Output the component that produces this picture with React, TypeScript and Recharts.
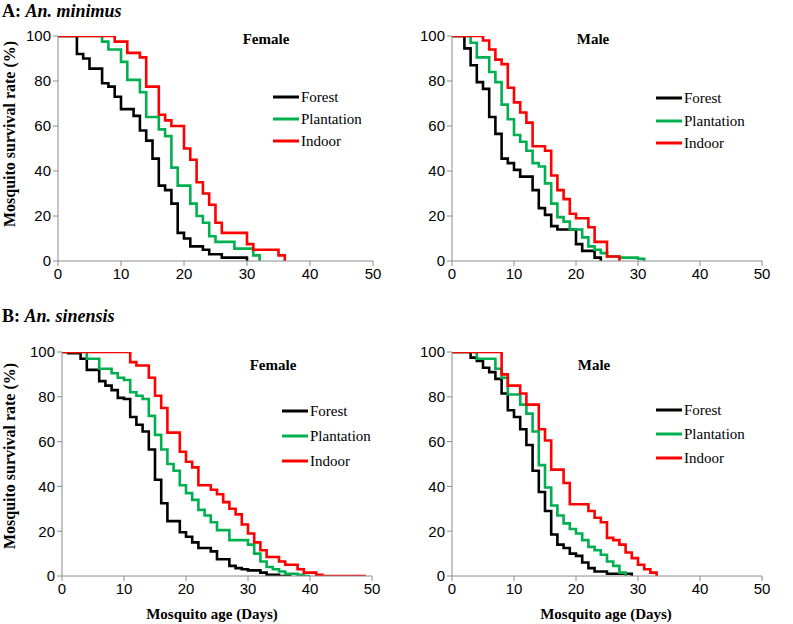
import React from "react";
import { LineChart, Line, XAxis, YAxis } from "recharts";

type Pt = [number, number];

const xTicks = [0, 10, 20, 30, 40, 50];
const yTicks = [0, 20, 40, 60, 80, 100];
const seriesNames = ["Forest", "Plantation", "Indoor"];
const seriesColors = ["#000000", "#00b050", "#ff0000"];

// A: An. minimus, female  [day, survival %]
const minFemForest: Pt[] = [[0, 100], [3, 92], [4, 90], [5, 85.5], [7, 79], [8, 77.5], [9, 73], [10, 67.5], [12, 64.5], [13, 58], [14, 53.5], [15, 45.5], [16, 33.5], [17, 31.5], [18, 25.5], [19, 12.5], [20, 10], [21, 6.5], [23, 5], [24, 3], [26, 1.5], [30, 0]];
const minFemPlantation: Pt[] = [[0, 100], [7, 97.5], [8, 94], [10, 88.5], [11, 80.5], [13, 75], [14, 64], [16, 58.5], [17, 55.5], [18, 41.5], [19, 33.5], [21, 25.5], [22, 20], [23, 17], [24, 11], [25, 8.5], [28, 5.5], [31, 2.5], [32, 0]];
const minFemIndoor: Pt[] = [[0, 100], [9, 97.5], [11, 92.5], [13, 90.5], [14, 77.5], [16, 65], [17, 62.5], [18, 60], [20, 50], [21, 45], [22, 35], [23, 30], [24, 25], [25, 17], [26, 12.5], [30, 7.5], [31, 5], [35, 2.5], [36, 0]];

// A: An. minimus, male
const minMaleForest: Pt[] = [[0, 100], [2, 94.5], [3, 87], [4, 79.5], [5, 76.5], [6, 64], [7, 56.5], [8, 45.5], [9, 43.5], [10, 40.5], [11, 37.5], [13, 31.5], [14, 23.5], [15, 20.5], [16, 15.5], [17, 14], [20, 7.5], [21, 4.5], [23, 1.5], [24, 0]];
const minMalePlantation: Pt[] = [[0, 100], [3, 97], [4, 90.5], [6, 84], [7, 79.5], [8, 69.5], [9, 63], [10, 56], [11, 53], [12, 49], [13, 43.5], [14, 42], [15, 34.5], [16, 25.5], [17, 19.5], [18, 17.5], [19, 14], [21, 10.5], [22, 6.5], [23, 5], [24, 3.5], [25, 2], [27, 1.5], [30, 1], [31, 0]];
const minMaleIndoor: Pt[] = [[0, 100], [5, 98], [6, 94], [7, 89.5], [8, 87.5], [9, 77], [10, 70.5], [11, 66], [12, 61.5], [13, 51], [15, 49], [16, 38], [17, 31.5], [18, 27.5], [19, 21], [20, 19], [22, 15], [23, 8.5], [25, 2], [27, 0]];

// B: An. sinensis, female
const sinFemForest: Pt[] = [[0, 100], [1, 99.5], [3, 97], [4, 92], [6, 87], [7, 85], [8, 83], [9, 79.5], [10, 79], [11, 71], [12, 67.5], [13, 64.5], [14, 56.5], [15, 43], [16, 32.5], [17, 24.5], [19, 19.5], [20, 17.5], [21, 15], [22, 12.5], [24, 11], [25, 7.5], [27, 4.5], [28, 3.5], [29, 3], [30, 2.5], [32, 1.5], [33, 0.5], [35, 0], [37, 0]];
const sinFemPlantation: Pt[] = [[0, 100], [4, 97], [6, 92.5], [8, 90.5], [9, 88.5], [10, 87.5], [11, 82], [12, 80.5], [13, 79], [14, 71.5], [15, 63], [16, 56.5], [17, 50], [18, 47], [19, 40.5], [20, 37], [21, 34], [22, 29.5], [23, 27], [24, 24], [25, 20.5], [27, 16], [30, 14], [31, 10], [32, 6.5], [33, 4], [34, 3], [35, 2], [36, 1], [38, 0.5], [39, 0], [40, 0]];
const sinFemIndoor: Pt[] = [[0, 100], [11, 95.5], [12, 94], [14, 88.5], [15, 80.5], [16, 75], [17, 64], [19, 55.5], [20, 51], [21, 48.5], [22, 40.5], [24, 38.5], [25, 36.5], [26, 33], [27, 30], [28, 27.5], [29, 23], [30, 19], [31, 15], [32, 11.5], [33, 8.5], [35, 6.5], [36, 5], [38, 3], [39, 1.5], [41, 0.5], [42, 0], [49, 0]];

// B: An. sinensis, male
const sinMaleForest: Pt[] = [[0, 100], [3, 97.5], [4, 96], [5, 93], [6, 91], [7, 88], [8, 81.5], [9, 74], [10, 71], [11, 65.5], [12, 58.5], [13, 47], [14, 37.5], [15, 29], [16, 18.5], [17, 14], [18, 12.5], [19, 10], [20, 9], [21, 6], [22, 3.5], [23, 2], [25, 1], [29, 0]];
const sinMalePlantation: Pt[] = [[0, 100], [4, 97], [7, 92.5], [8, 88.5], [9, 81], [11, 76.5], [12, 72.5], [13, 64.5], [14, 49.5], [15, 39.5], [16, 31.5], [17, 27], [18, 23.5], [19, 21], [20, 19], [21, 16], [22, 13], [23, 11.5], [24, 9.5], [25, 6.5], [26, 4.5], [27, 1.5], [28, 0]];
const sinMaleIndoor: Pt[] = [[0, 100], [8, 90], [9, 85], [11, 81.5], [12, 76.5], [14, 65.5], [15, 60.5], [16, 47.5], [18, 41.5], [19, 32], [22, 29], [23, 26], [24, 24], [25, 17], [26, 16], [27, 14], [28, 10.5], [29, 8], [30, 5], [31, 3], [32, 1.5], [33, 0]];

const serif = "'Liberation Serif', 'Times New Roman', serif";
const sans = "'Liberation Sans', Arial, sans-serif";
const axisGrey = "#8c8c8c";

const rows = (s: Pt[]) => s.map(([x, y]) => ({ x, y }));

function Panel({ left, top, axisW, plotW, plotH, series }: { left: number; top: number; axisW: number; plotW: number; plotH: number; series: Pt[][] }) {
  const width = axisW + plotW + 20;
  const height = 36 + plotH + 30;
  return (
    <div style={{ position: "absolute", left, top }}>
      <LineChart width={width} height={height} margin={{ top: 36, right: 20, bottom: 0, left: 0 }}>
        <XAxis
          type="number"
          dataKey="x"
          domain={[0, 50]}
          ticks={xTicks}
          allowDataOverflow
          height={30}
          tickSize={5}
          stroke={axisGrey}
          tick={{ fill: "#000", fontSize: 15, fontFamily: sans }}
        />
        <YAxis
          type="number"
          domain={[0, 100]}
          ticks={yTicks}
          allowDataOverflow
          width={axisW}
          tickSize={5}
          stroke={axisGrey}
          tick={{ fill: "#000", fontSize: 15, fontFamily: sans }}
        />
        {series.map((s, i) => (
          <Line
            key={seriesNames[i]}
            data={rows(s)}
            dataKey="y"
            name={seriesNames[i]}
            type="stepAfter"
            stroke={seriesColors[i]}
            strokeWidth={2.6}
            dot={false}
            isAnimationActive={false}
          />
        ))}
      </LineChart>
    </div>
  );
}

function LegendBox({ x, ys }: { x: number; ys: number[] }) {
  return (
    <g>
      {ys.map((y, i) => (
        <g key={seriesNames[i]}>
          <line x1={x} x2={x + 26} y1={y} y2={y} stroke={seriesColors[i]} strokeWidth={3} />
          <text x={x + 28} y={y + 5} fontSize={15} fontFamily={serif} fill="#000">
            {seriesNames[i]}
          </text>
        </g>
      ))}
    </g>
  );
}

export default function App() {
  return (
    <div style={{ position: "absolute", left: 0, top: 0, width: 793, height: 624, background: "#fff", overflow: "hidden" }}>
      <Panel left={0} top={0} axisW={58} plotW={315} plotH={225} series={[minFemForest, minFemPlantation, minFemIndoor]} />
      <Panel left={395} top={0} axisW={57} plotW={310} plotH={225} series={[minMaleForest, minMalePlantation, minMaleIndoor]} />
      <Panel left={0} top={316} axisW={62} plotW={310} plotH={224} series={[sinFemForest, sinFemPlantation, sinFemIndoor]} />
      <Panel left={395} top={316} axisW={57} plotW={310} plotH={224} series={[sinMaleForest, sinMalePlantation, sinMaleIndoor]} />

      <svg width={793} height={624} style={{ position: "absolute", left: 0, top: 0, pointerEvents: "none" }}>
        <text x={2} y={17} fontSize={18} fontWeight="bold" fontFamily={serif}>
          A: <tspan fontStyle="italic">An. minimus</tspan>
        </text>
        <text x={2} y={322} fontSize={18} fontWeight="bold" fontFamily={serif}>
          B: <tspan fontStyle="italic">An. sinensis</tspan>
        </text>

        <text x={266} y={44} textAnchor="middle" fontSize={15} fontWeight="bold" fontFamily={serif}>Female</text>
        <text x={593} y={44} textAnchor="middle" fontSize={15} fontWeight="bold" fontFamily={serif}>Male</text>
        <text x={273} y={370} textAnchor="middle" fontSize={15} fontWeight="bold" fontFamily={serif}>Female</text>
        <text x={594} y={370} textAnchor="middle" fontSize={15} fontWeight="bold" fontFamily={serif}>Male</text>

        <LegendBox x={273} ys={[97, 119, 141]} />
        <LegendBox x={656} ys={[98, 121, 143]} />
        <LegendBox x={282} ys={[411, 436, 461]} />
        <LegendBox x={656} ys={[410, 434, 458]} />

        <text transform="translate(15,134) rotate(-90)" textAnchor="middle" fontSize={16} fontWeight="bold" fontFamily={serif}>
          Mosquito survival rate (%)
        </text>
        <text transform="translate(15,456) rotate(-90)" textAnchor="middle" fontSize={16} fontWeight="bold" fontFamily={serif}>
          Mosquito survival rate (%)
        </text>

        <text x={212} y={619} textAnchor="middle" fontSize={15} fontWeight="bold" fontFamily={serif}>Mosquito age (Days)</text>
        <text x={606} y={619} textAnchor="middle" fontSize={15} fontWeight="bold" fontFamily={serif}>Mosquito age (Days)</text>
      </svg>
    </div>
  );
}
